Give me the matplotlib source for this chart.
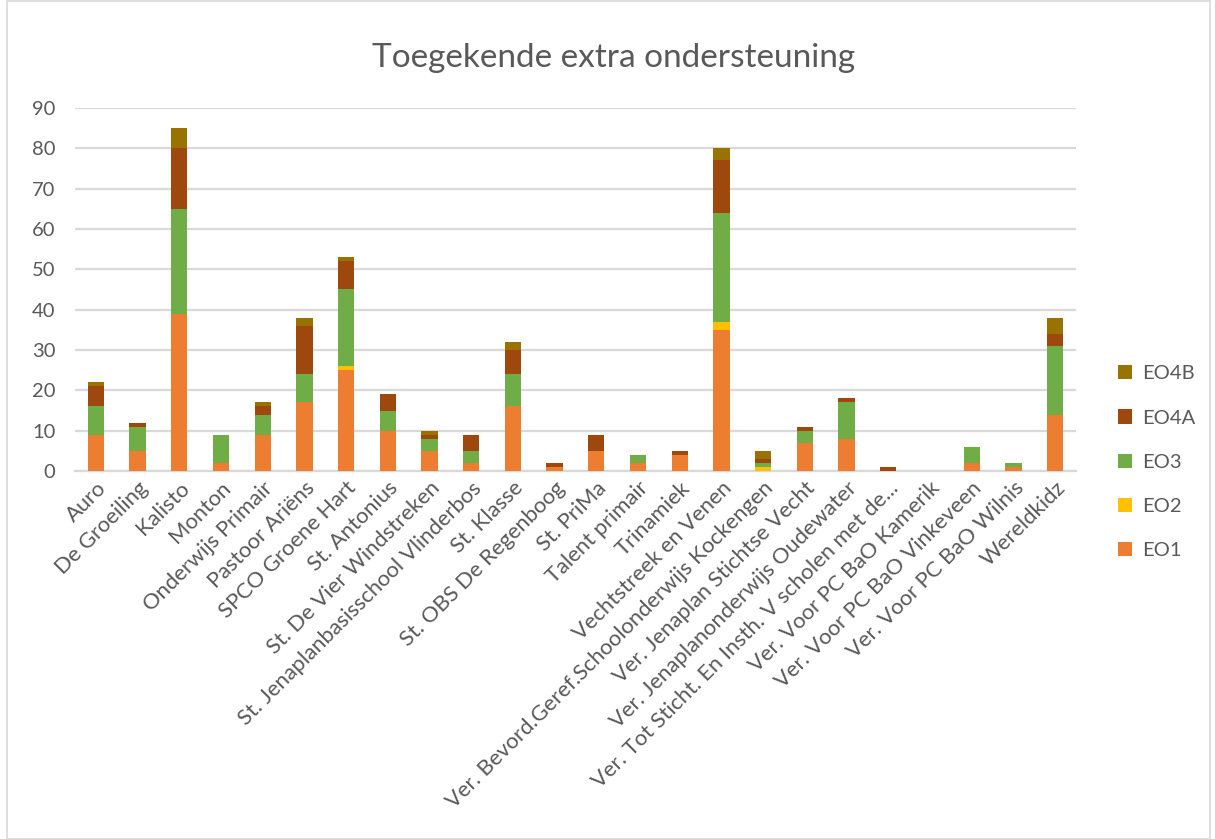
import numpy as np
import matplotlib
matplotlib.use('Agg')
import matplotlib.pyplot as plt
from matplotlib.patches import Rectangle

scholen = ['Auro', 'De Groeiling', 'Kalisto', 'Monton', 'Onderwijs Primair',
           'Pastoor Ariëns', 'SPCO Groene Hart', 'St. Antonius',
           'St. De Vier Windstreken', 'St. Jenaplanbasisschool Vlinderbos',
           'St. Klasse', 'St. OBS De Regenboog', 'St. PriMa', 'Talent primair',
           'Trinamiek', 'Vechtstreek en Venen',
           'Ver. Bevord.Geref.Schoolonderwijs Kockengen',
           'Ver. Jenaplan Stichtse Vecht', 'Ver. Jenaplanonderwijs Oudewater',
           'Ver. Tot Sticht. En Insth. V scholen met de...',
           'Ver. Voor PC BaO Kamerik', 'Ver. Voor PC BaO Vinkeveen',
           'Ver. Voor PC BaO Wilnis', 'Wereldkidz']

eo1  = [9, 5, 39, 2, 9, 17, 25, 10, 5, 2, 16, 1, 5, 2, 4, 35, 0, 7, 8, 0, 0, 2, 1, 14]
eo2  = [0, 0, 0, 0, 0, 0, 1, 0, 0, 0, 0, 0, 0, 0, 0, 2, 1, 0, 0, 0, 0, 0, 0, 0]
eo3  = [7, 6, 26, 7, 5, 7, 19, 5, 3, 3, 8, 0, 0, 2, 0, 27, 1, 3, 9, 0, 0, 4, 1, 17]
eo4a = [5, 1, 15, 0, 2, 12, 7, 4, 1, 4, 6, 1, 4, 0, 1, 13, 1, 1, 1, 1, 0, 0, 0, 3]
eo4b = [1, 0, 5, 0, 1, 2, 1, 0, 1, 0, 2, 0, 0, 0, 0, 3, 2, 0, 0, 0, 0, 0, 0, 4]

series = [('EO1', eo1, '#ED7D31'), ('EO2', eo2, '#FFC000'), ('EO3', eo3, '#70AD47'),
          ('EO4A', eo4a, '#9E480E'), ('EO4B', eo4b, '#997300')]

plt.rcParams['font.family'] = ['Lato', 'DejaVu Sans']
txt = '#595959'
grid = '#D9D9D9'

fig = plt.figure(figsize=(12.15, 8.39), dpi=100)
ax = fig.add_axes([0.0617, 0.4386, 0.8239, 0.4327])

x = np.arange(len(scholen))
bottom = np.zeros(len(scholen))
handles = []
for name, vals, col in series:
    b = ax.bar(x, vals, 0.39, bottom=bottom, color=col, label=name, zorder=3)
    handles.append(b)
    bottom += np.array(vals)

ax.set_xlim(-0.5, len(scholen) - 0.5)
ax.set_ylim(0, 90)
ax.set_yticks(range(0, 91, 10))
ax.yaxis.grid(True, color=grid, linewidth=1.6, zorder=0)
for s in ['top', 'right', 'left']:
    ax.spines[s].set_visible(False)
ax.spines['bottom'].set_color(grid)
ax.spines['bottom'].set_linewidth(1.6)
ax.tick_params(axis='both', length=0, colors=txt, labelsize=14.5)
ax.tick_params(axis='y', pad=14)
ax.tick_params(axis='x', pad=5, labelsize=15.8)
ax.set_xticks(x)
ax.set_xticklabels(scholen, rotation=45, ha='right', rotation_mode='anchor')

fig.suptitle('Toegekende extra ondersteuning', x=0.505, y=0.949, fontsize=24, color=txt)

leg = fig.legend(handles[::-1], [s[0] for s in series][::-1], loc='center left',
                 bbox_to_anchor=(0.905, 0.449), frameon=False, fontsize=14.5,
                 labelcolor=txt, handlelength=0.7, handleheight=0.7,
                 labelspacing=1.35, handletextpad=0.5)

fig.patches.append(Rectangle((0.006, 0.0), 0.99, 0.999, transform=fig.transFigure,
                             fill=False, edgecolor=grid, linewidth=1.2))

fig.savefig('out.png', dpi=100)
